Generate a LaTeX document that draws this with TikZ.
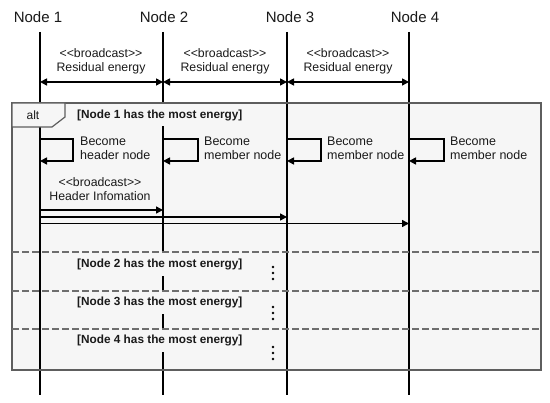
\documentclass[tikz,border=0pt]{standalone}
\usepackage{fontspec}
\setmainfont{Liberation Sans}[Ligatures=TeXOff]
\usetikzlibrary{arrows.meta}
\definecolor{framefill}{HTML}{F6F6F6}
\definecolor{framedraw}{HTML}{5E5E5E}
\definecolor{dashcol}{HTML}{6E6E6E}
\definecolor{txt}{HTML}{1A1A1A}
\begin{document}
\begin{tikzpicture}[x=1pt,y=-1pt,
  lifeline/.style={line width=1.8pt,black},
  msg/.style={line width=1.6pt,black,-{Triangle[length=7pt,width=7pt]}},
  bmsg/.style={line width=1.6pt,black,{Triangle[length=7pt,width=7pt]}-{Triangle[length=7pt,width=7pt]}},
  title/.style={font=\fontsize{15}{18}\selectfont,text=txt,inner sep=0pt},
  note/.style={font=\fontsize{12.3}{14.5}\selectfont,align=center,inner sep=0pt,text=txt},
  selfnote/.style={font=\fontsize{12.5}{13.5}\selectfont,align=left,inner sep=0pt,anchor=west,text=txt},
  guard/.style={font=\bfseries\fontsize{11.8}{14}\selectfont,fill=framefill,minimum height=23pt,inner xsep=3pt,inner ysep=0pt,anchor=west,text=txt},
  sep/.style={dashcol,line width=1.5pt,dash pattern=on 6.5pt off 3.5pt},
  dotmark/.style={fill=black}]
\useasboundingbox (0,0) rectangle (550,403);
\fill[white] (0,0) rectangle (550,403);

% titles
\node[title] (n1) at (38,17) {Node 1};
\node[title] (n2) at (164,17) {Node 2};
\node[title] (n3) at (290,17) {Node 3};
\node[title] (n4) at (415,17) {Node 4};

% lifeline coordinates
\coordinate (l1t) at (40,32);  \coordinate (l1b) at (40,395);
\coordinate (l2t) at (163,32); \coordinate (l2b) at (163,395);
\coordinate (l3t) at (287,32); \coordinate (l3b) at (287,395);
\coordinate (l4t) at (409,32); \coordinate (l4b) at (409,395);

% frame
\fill[framefill] (12,103) rectangle (541,370);

% lifelines
\draw[lifeline] (l1t) -- (l1b);
\draw[lifeline] (l2t) -- (l2b);
\draw[lifeline] (l3t) -- (l3b);
\draw[lifeline] (l4t) -- (l4b);

% guards
\node[guard] (g1) at (74,115) {[Node 1 has the most energy]};
\node[guard] (g2) at (74,264.5) {[Node 2 has the most energy]};
\node[guard] (g3) at (74,302.5) {[Node 3 has the most energy]};
\node[guard] (g4) at (74,340.5) {[Node 4 has the most energy]};

% frame border, operator box, separators
\draw[framedraw,line width=1.5pt] (12,103) rectangle (541,370);
\draw[framedraw,line width=1.2pt,fill=framefill] (12,103) -- (65,103) -- (65,117) -- (52,127) -- (12,127) -- cycle;
\node[font=\fontsize{12}{14}\selectfont,text=txt] (alt) at (33,115) {alt};
\draw[sep] (12,252) -- (541,252);
\draw[sep] (12,291) -- (541,291);
\draw[sep] (12,329) -- (541,329);

% broadcast residual energy
\coordinate (yb) at (0,82);
\draw[bmsg] (l1t |- yb) -- (l2t |- yb);
\draw[bmsg] (l2t |- yb) -- (l3t |- yb);
\draw[bmsg] (l3t |- yb) -- (l4t |- yb);
\node[note] (r1) at (101,61.5) {<<broadcast>>\\Residual energy};
\node[note] (r2) at (225,61.5) {<<broadcast>>\\Residual energy};
\node[note] (r3) at (348,61.5) {<<broadcast>>\\Residual energy};

% self messages
\coordinate (st) at (0,139);
\coordinate (sb) at (0,161);
\draw[msg] (l1t |- st) -- ++(33,0) |- (l1t |- sb);
\draw[msg] (l2t |- st) -- ++(35,0) |- (l2t |- sb);
\draw[msg] (l3t |- st) -- ++(34,0) |- (l3t |- sb);
\draw[msg] (l4t |- st) -- ++(35,0) |- (l4t |- sb);
\node[selfnote] (s1) at (80,148.5) {Become\\header node};
\node[selfnote] (s2) at (204,148.5) {Become\\member node};
\node[selfnote] (s3) at (327,148.5) {Become\\member node};
\node[selfnote] (s4) at (450,148.5) {Become\\member node};

% header information
\node[note] (h) at (100,189) {<<broadcast>>\\Header Infomation};
\coordinate (h1) at (0,210);
\coordinate (h2) at (0,217);
\coordinate (h3) at (0,223.5);
\draw[msg,line width=1.5pt] (l1t |- h1) -- (l2t |- h1);
\draw[msg,line width=1.5pt] (l1t |- h2) -- (l3t |- h2);
\draw[msg,line width=1.5pt] (l1t |- h3) -- (l4t |- h3);

% continuation dots
\foreach \y in {267,273,279,307,313,319,347,353,359}
  \fill[dotmark] (273,\y) circle (1.4pt);
\end{tikzpicture}
\end{document}
